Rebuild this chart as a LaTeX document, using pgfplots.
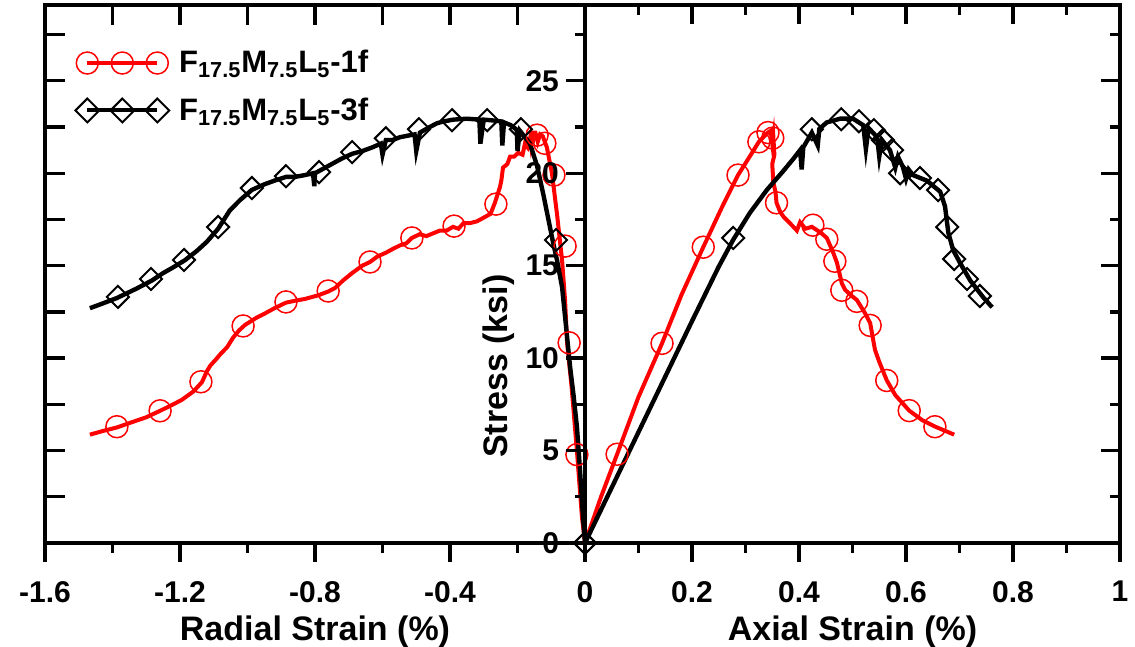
\documentclass[border=0pt]{standalone}
\usepackage{fontspec}
\setmainfont{Liberation Sans}
\usepackage{pgfplots}
\pgfplotsset{compat=1.18}

\newcommand\tickfont{\fontsize{15}{17}\selectfont\bfseries}
\newcommand\labfont{\fontsize{17}{20}\selectfont\bfseries}
\newcommand\legfont{\fontsize{15.5}{18}\selectfont\bfseries}

\pgfplotsset{
  panel/.style={
    scale only axis, height=269pt, ymin=0, ymax=29.1,
    axis line style={line width=1.7pt},
    tick style={line width=1.7pt, black},
    major tick length=9.5pt, minor tick length=5pt,
    tick label style={font=\tickfont},
    label style={font=\labfont},
    clip=false,
  },
  overlay/.style={panel, tick align=inside, xticklabels={}, yticklabels={}},
  redline/.style={red, line width=2pt, mark=none, forget plot},
  blackline/.style={black, line width=2.2pt, mark=none, forget plot},
  redmarks/.style={only marks, red, mark=o, mark size=5.5pt, mark options={line width=0.75pt}, forget plot},
  blackmarks/.style={only marks, black, mark=square, mark size=3.9pt, mark options={rotate=45, line width=1pt}, forget plot},
}

\begin{document}
\begin{tikzpicture}
\useasboundingbox (-22.5pt,-52pt) rectangle (545pt,271.5pt);

% ---------- left panel: radial strain ----------
\begin{axis}[panel,
    width=270pt, xmin=-1.6, xmax=0,
    xtick={-1.6,-1.2,-0.8,-0.4,0}, xticklabels={-1.6,-1.2,-0.8,-0.4,{}},
    minor xtick={-1.4,-1,-0.6,-0.2},
    xtick pos=left, ytick=\empty, tick align=outside,
    xticklabel style={yshift=-6pt},
    xlabel={Radial Strain (\%)},
    legend style={draw=none, fill=none, at={(0.0556,0.924)}, anchor=north west,
      font=\legfont, inner sep=0pt, row sep=7pt, cells={anchor=west},
      /tikz/every odd column/.append style={column sep=3pt}},
    legend image code/.code={\draw[#1] plot coordinates {(0pt,0pt) (17.5pt,0pt) (35pt,0pt)};},
]
\addlegendimage{red, line width=2pt, mark=o, mark size=5.5pt, mark options={line width=0.75pt}}
\addlegendentry{F\textsubscript{17.5}M\textsubscript{7.5}L\textsubscript{5}-1f}
\addlegendimage{black, line width=2pt, mark=square, mark size=4.2pt, mark options={rotate=45, line width=1pt}}
\addlegendentry{F\textsubscript{17.5}M\textsubscript{7.5}L\textsubscript{5}-3f}

% 1f radial
\addplot[redline] coordinates {
 (0,0) (-0.009,1.4) (-0.024,5.0) (-0.04,8.5) (-0.053,10.8) (-0.059,13.1) (-0.068,15.3)
 (-0.083,17.8) (-0.098,20.0) (-0.113,21.4) (-0.125,22.0) (-0.133,22.1) (-0.14,21.7)
 (-0.147,22.2) (-0.154,22.2) (-0.16,21.5) (-0.163,21.9) (-0.17,21.4) (-0.178,21.6)
 (-0.185,21.0) (-0.198,21.1) (-0.21,20.9) (-0.222,20.9) (-0.23,20.5) (-0.243,20.3)
 (-0.248,19.6) (-0.252,19.25) (-0.26,18.8) (-0.267,18.4) (-0.28,17.8) (-0.29,17.7)
 (-0.305,17.55) (-0.32,17.4) (-0.341,17.3) (-0.36,17.3) (-0.375,17.0) (-0.391,17.1)
 (-0.41,16.9) (-0.43,16.9) (-0.45,16.75) (-0.47,16.6) (-0.49,16.7) (-0.513,16.5)
 (-0.53,16.2) (-0.548,16.1) (-0.57,15.9) (-0.59,15.7) (-0.615,15.5) (-0.637,15.2)
 (-0.66,15.0) (-0.69,14.6) (-0.717,14.2) (-0.74,13.8) (-0.761,13.6) (-0.79,13.4)
 (-0.83,13.2) (-0.86,13.1) (-0.886,13.0) (-0.92,12.7) (-0.95,12.4) (-0.972,12.2)
 (-1.007,11.8) (-1.025,11.5) (-1.043,11.1) (-1.06,10.6) (-1.081,10.2) (-1.095,9.9)
 (-1.11,9.6) (-1.12,9.3) (-1.135,8.7) (-1.16,8.2) (-1.194,7.75) (-1.22,7.5)
 (-1.259,7.15) (-1.3,6.8) (-1.34,6.55) (-1.387,6.25) (-1.43,6.05) (-1.467,5.86)
};
\addplot[redmarks] coordinates {
 (-1.387,6.29) (-1.259,7.15) (-1.138,8.72) (-1.013,11.74) (-0.886,13.04) (-0.761,13.63)
 (-0.637,15.2) (-0.513,16.5) (-0.388,17.14) (-0.264,18.33) (-0.142,22.06) (-0.119,21.62)
 (-0.092,19.9) (-0.059,16.06) (-0.047,10.83) (-0.024,4.78)
};
% 3f radial
\addplot[blackline] coordinates {
 (0,0) (-0.006,1.4) (-0.015,4.0) (-0.024,6.3) (-0.034,8.0) (-0.044,9.5) (-0.055,11.5)
 (-0.068,13.85) (-0.083,15.3) (-0.094,16.2) (-0.104,17.1) (-0.124,18.9) (-0.142,20.4)
 (-0.163,21.6) (-0.18,22.0) (-0.193,22.3) (-0.2,21.2) (-0.202,22.35) (-0.22,22.6)
 (-0.24,22.75) (-0.245,21.5) (-0.248,22.8) (-0.27,22.85) (-0.3,22.9) (-0.31,21.6)
 (-0.313,22.9) (-0.35,22.95) (-0.39,22.9) (-0.42,22.8) (-0.439,22.7) (-0.46,22.5)
 (-0.489,22.2) (-0.5,21.2) (-0.505,22.1) (-0.52,22.05) (-0.548,21.95) (-0.57,21.8)
 (-0.59,21.8) (-0.6,21.0) (-0.605,21.6) (-0.63,21.4) (-0.66,21.2) (-0.69,21.05)
 (-0.72,20.8) (-0.75,20.5) (-0.77,20.3) (-0.8,20.0) (-0.802,19.3) (-0.806,20.0)
 (-0.83,19.9) (-0.86,19.8) (-0.886,19.8) (-0.92,19.6) (-0.95,19.4) (-0.987,19.1)
 (-1.022,18.55) (-1.052,18.0) (-1.087,17.0) (-1.12,16.3) (-1.15,15.8) (-1.185,15.3)
 (-1.221,14.9) (-1.25,14.6) (-1.283,14.2) (-1.33,13.75) (-1.387,13.25) (-1.43,12.95)
 (-1.467,12.7)
};
\addplot[blackmarks] coordinates {
 (-1.384,13.31) (-1.286,14.28) (-1.188,15.31) (-1.087,17.09) (-0.987,19.2) (-0.886,19.84)
 (-0.788,20.06) (-0.69,21.14) (-0.59,21.89) (-0.492,22.38) (-0.394,22.87) (-0.29,22.87)
 (-0.19,22.38) (-0.086,16.39) (0,0)
};
\end{axis}
\begin{axis}[overlay,
    width=270pt, xmin=-1.6, xmax=0,
    xtick={-1.4,-1.2,-1,-0.8,-0.6,-0.4,-0.2}, xtick pos=right,
    ytick={2.5,5,7.5,10,12.5,15,17.5,20,22.5,25,27.5}, ytick pos=left,
    major tick length=10pt,
]
\end{axis}

% ---------- right panel: axial strain ----------
\begin{axis}[panel, at={(270pt,0)},
    width=267.5pt, xmin=0, xmax=1,
    xtick={0,0.2,0.4,0.6,0.8,1}, xticklabels={0,0.2,0.4,0.6,0.8,1},
    minor xtick={0.1,0.3,0.5,0.7,0.9},
    ytick={0,5,10,15,20,25}, yticklabels={0,5,10,15,20,25},
    minor ytick={2.5,7.5,12.5,17.5,22.5,27.5},
    xtick pos=left, ytick pos=left, tick align=outside,
    xticklabel style={yshift=-6pt},
    xlabel={Axial Strain (\%)},
]
\node[rotate=90, font=\labfont] at (rel axis cs:-0.162,0.3285) {Stress (ksi)};
% 1f axial
\addplot[redline] coordinates {
 (0,0) (0.03,2.5) (0.06,4.8) (0.1,7.9) (0.144,10.8) (0.18,13.4) (0.221,16.0) (0.255,18.1)
 (0.286,19.9) (0.31,21.0) (0.325,21.7) (0.335,22.0) (0.342,22.2) (0.347,22.3) (0.35,21.6)
 (0.352,22.0) (0.354,21.0) (0.35,20.5) (0.352,19.5) (0.356,19.0) (0.358,18.4) (0.365,17.9)
 (0.371,17.65) (0.383,17.3) (0.396,16.9) (0.402,17.35) (0.412,17.0) (0.424,17.1)
 (0.44,16.8) (0.452,16.5) (0.464,15.7) (0.471,15.15) (0.48,14.05) (0.486,13.7)
 (0.497,13.4) (0.508,13.15) (0.523,12.45) (0.533,11.9) (0.542,10.45) (0.55,9.8)
 (0.564,8.8) (0.58,8.0) (0.606,7.16) (0.63,6.65) (0.654,6.3) (0.69,5.86)
};
\addplot[redmarks] coordinates {
 (0.06,4.8) (0.144,10.8) (0.221,16.0) (0.286,19.9) (0.325,21.7) (0.342,22.2) (0.351,21.9)
 (0.358,18.4) (0.426,17.19) (0.452,16.43) (0.467,15.24) (0.48,13.67) (0.508,13.07)
 (0.533,11.77) (0.564,8.79) (0.606,7.16) (0.654,6.29)
};
% 3f axial
\addplot[blackline] coordinates {
 (0,0) (0.05,3.0) (0.1,6.0) (0.15,9.0) (0.2,12.0) (0.25,14.95) (0.277,16.4) (0.308,17.85)
 (0.34,19.1) (0.37,20.1) (0.39,20.8) (0.402,21.25) (0.405,20.2) (0.408,21.4) (0.424,22.2)
 (0.435,21.5) (0.438,22.4) (0.452,22.75) (0.477,22.95) (0.501,22.95) (0.52,22.6)
 (0.525,21.3) (0.53,22.45) (0.546,21.95) (0.55,20.9) (0.555,21.8) (0.57,21.25)
 (0.58,20.3) (0.585,20.9) (0.594,20.35) (0.6,19.7) (0.605,20.2) (0.613,19.9)
 (0.639,19.6) (0.664,19.0) (0.673,18.2) (0.679,16.8) (0.688,15.85) (0.701,15.15)
 (0.72,14.2) (0.744,13.3) (0.761,12.75)
};
\addplot[blackmarks] coordinates {
 (0,0) (0.277,16.5) (0.424,22.38) (0.479,22.92) (0.512,22.81) (0.54,22.33) (0.557,21.79)
 (0.574,21.25) (0.589,20.0) (0.626,19.74) (0.66,19.09) (0.677,17.09) (0.69,15.36)
 (0.714,14.28) (0.738,13.36)
};
\end{axis}
\begin{axis}[overlay, at={(270pt,0)},
    width=267.5pt, xmin=0, xmax=1,
    xtick={0.2,0.4,0.6,0.8}, minor xtick={0.1,0.3,0.5,0.7,0.9}, xtick pos=right,
    ytick={5,10,15,20,25}, minor ytick={2.5,7.5,12.5,17.5,22.5,27.5}, ytick pos=right,
]
\end{axis}
\end{tikzpicture}
\end{document}
